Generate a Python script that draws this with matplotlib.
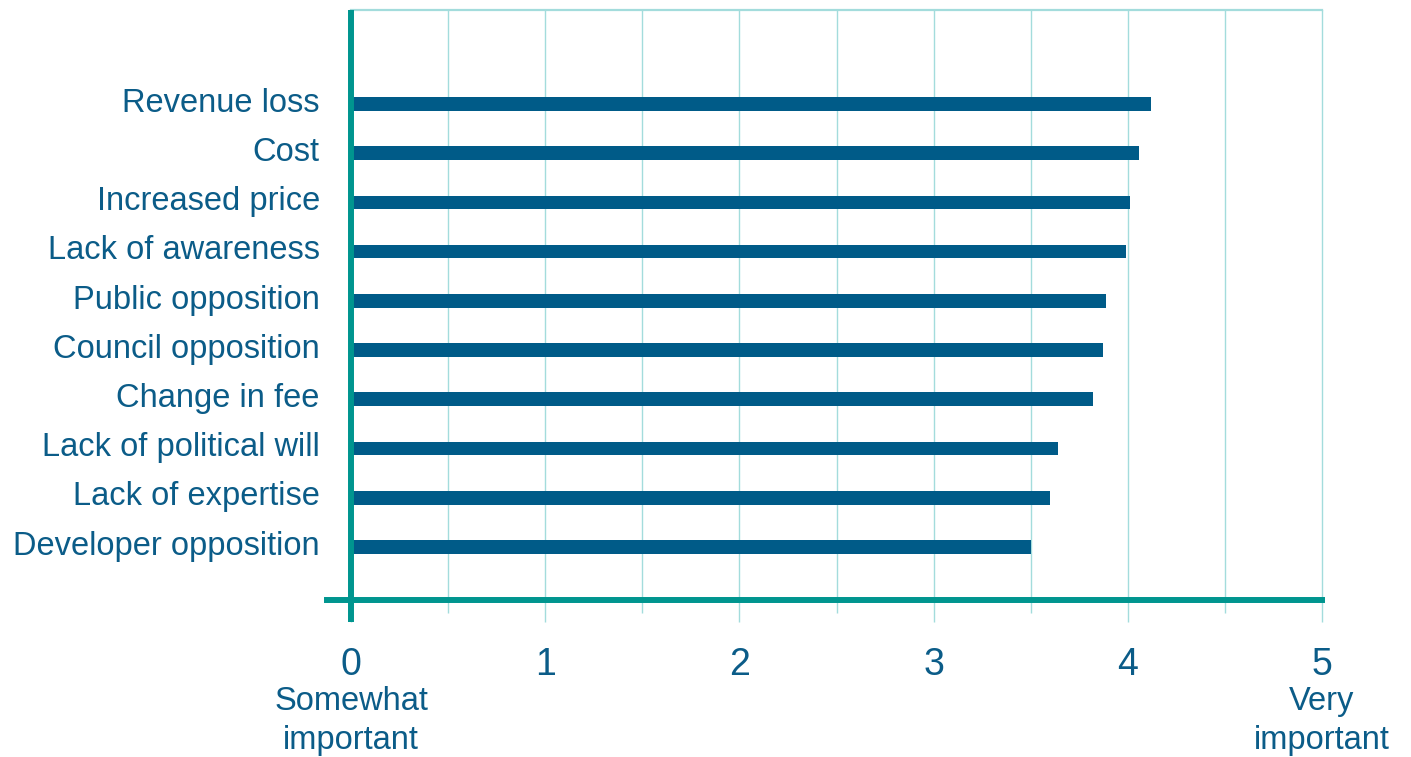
import matplotlib
matplotlib.use("Agg")
import matplotlib.pyplot as plt
import matplotlib.transforms as mtransforms
from matplotlib.ticker import MultipleLocator

categories = ["Revenue loss", "Cost", "Increased price", "Lack of awareness",
              "Public opposition", "Council opposition", "Change in fee",
              "Lack of political will", "Lack of expertise", "Developer opposition"]
values = [4.12, 4.06, 4.01, 3.99, 3.89, 3.87, 3.82, 3.64, 3.60, 3.50]
xticks = [0, 1, 2, 3, 4, 5]
end_labels = ["Somewhat\nimportant", "Very\nimportant"]

BAR = "#005B88"
TEAL = "#00958F"
GRID = "#A3DCDC"
TXT = "#0B5C88"

plt.rcParams['font.family'] = ['Liberation Sans', 'DejaVu Sans']

fig = plt.figure(figsize=(14.11, 7.57), dpi=100)
ax = fig.add_axes([0.2316, 0.2074, 0.9383 - 0.2316, 0.9868 - 0.2074])

ypos = list(range(len(categories)))
ax.barh(ypos, values, height=0.28, color=BAR, zorder=2)

ax.set_xlim(-0.125, 5.01)
ax.set_ylim(10.08, -1.91)

ax.set_yticks(ypos)
ax.set_yticklabels(categories, fontsize=23.5, color=TXT)
ax.tick_params(axis='y', length=0, pad=5)
shift = mtransforms.ScaledTranslation(0, 3 / 72, fig.dpi_scale_trans)
for lbl in ax.get_yticklabels():
    lbl.set_transform(lbl.get_transform() + shift)

ax.set_xticks(xticks)
ax.set_xticklabels([str(t) for t in xticks], fontsize=27, color=TXT)
ax.xaxis.set_minor_locator(MultipleLocator(0.5))
ax.tick_params(axis='x', which='major', length=15.8, width=1.0, color=GRID,
               direction='out', pad=18)
ax.tick_params(axis='x', which='minor', length=9.4, width=1.0, color=GRID,
               direction='out')

ax.set_axisbelow(True)
ax.grid(axis='x', which='both', color=GRID, linewidth=1.0, zorder=0)

for s in ['left', 'right']:
    ax.spines[s].set_visible(False)
ax.spines['top'].set_bounds(0, 5)
ax.spines['top'].set_color(GRID)
ax.spines['top'].set_linewidth(1.6)
ax.spines['bottom'].set_bounds(-0.125, 5)
ax.spines['bottom'].set_color(TEAL)
ax.spines['bottom'].set_linewidth(4.3)
ax.spines['bottom'].set_zorder(3)

ax.axvline(0, ymin=-22 / 590, ymax=1, color=TEAL, linewidth=4.3,
           clip_on=False, zorder=4, solid_capstyle='butt')

trans = mtransforms.blended_transform_factory(ax.transData, fig.transFigure)
ax.text(0, 1 - 686 / 757, end_labels[0], transform=trans, ha='center', va='top',
        fontsize=23.5, color=TXT, linespacing=1.32)
ax.text(5, 1 - 686 / 757, end_labels[1], transform=trans, ha='center', va='top',
        fontsize=23.5, color=TXT, linespacing=1.32)

fig.savefig("out.png", dpi=100)
